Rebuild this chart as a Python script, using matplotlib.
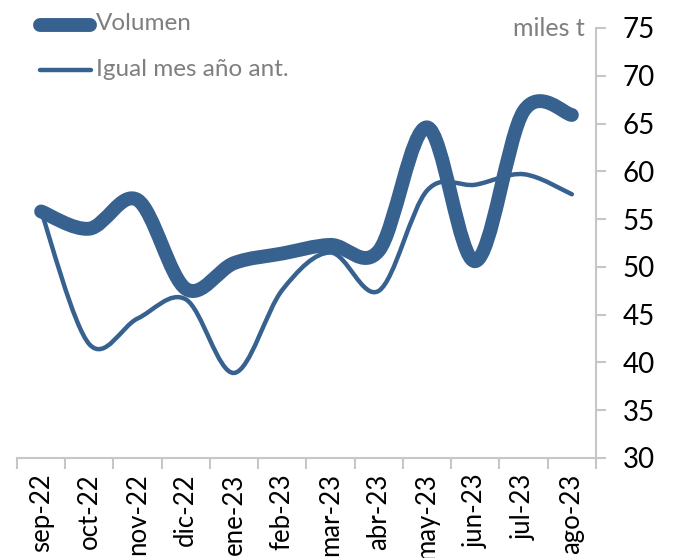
import matplotlib
matplotlib.use("Agg")
import matplotlib.pyplot as plt
from matplotlib.path import Path
from matplotlib.patches import PathPatch
from matplotlib.lines import Line2D

plt.rcParams['font.family'] = ['Lato', 'DejaVu Sans']

months = ["sep-22", "oct-22", "nov-22", "dic-22", "ene-23", "feb-23",
          "mar-23", "abr-23", "may-23", "jun-23", "jul-23", "ago-23"]
volumen = [55.8, 54.0, 57.0, 47.7, 50.4, 51.4, 52.3, 51.7, 64.6, 50.6, 66.3, 65.9]
igual_mes = [55.8, 41.9, 44.6, 46.6, 38.9, 47.6, 51.5, 47.5, 58.0, 58.6, 59.7, 57.6]
labels = ["Volumen", "Igual mes año ant."]

blue = '#37618f'
grey = '#c6c6c6'


def smooth_path(xs, ys):
    # Excel style smoothed line: cubic bezier through each point
    verts = [(xs[0], ys[0])]
    codes = [Path.MOVETO]
    n = len(xs)
    for i in range(n - 1):
        x0, y0 = (xs[i - 1], ys[i - 1]) if i > 0 else (xs[i], ys[i])
        x1, y1 = xs[i], ys[i]
        x2, y2 = xs[i + 1], ys[i + 1]
        x3, y3 = (xs[i + 2], ys[i + 2]) if i + 2 < n else (x2, y2)
        c1 = (x1 + (x2 - x0) / 6, y1 + (y2 - y0) / 6)
        c2 = (x2 - (x3 - x1) / 6, y2 - (y3 - y1) / 6)
        verts += [c1, c2, (x2, y2)]
        codes += [Path.CURVE4] * 3
    return Path(verts, codes)


fig = plt.figure(figsize=(6.86, 5.58), dpi=100)
ax = fig.add_axes([17 / 686, 1 - 458 / 558, 579 / 686, 430 / 558])

xs = list(range(len(months)))
ax.add_patch(PathPatch(smooth_path(xs, igual_mes), fill=False, edgecolor=blue,
                       lw=3.2, capstyle='round', joinstyle='round', zorder=2))
ax.add_patch(PathPatch(smooth_path(xs, volumen), fill=False, edgecolor=blue,
                       lw=10, capstyle='round', joinstyle='round', zorder=3))

ax.set_xlim(-0.5, len(months) - 0.5)
ax.set_ylim(30, 75)
ax.set_yticks(range(30, 80, 5))
ax.yaxis.tick_right()
ax.set_xticks([i - 0.5 for i in range(len(months) + 1)], minor=False)
ax.set_xticklabels([])
ax.set_xticks(xs, minor=True)
ax.set_xticklabels(months, minor=True, rotation=90, fontsize=18.5)

for s in ['top', 'left']:
    ax.spines[s].set_visible(False)
for s in ['bottom', 'right']:
    ax.spines[s].set_color(grey)
    ax.spines[s].set_linewidth(1.5)

ax.tick_params(axis='y', which='major', direction='out', length=7, width=1.5,
               color=grey, labelsize=20, pad=12, labelcolor='black')
ax.tick_params(axis='x', which='major', direction='out', length=8, width=1.5,
               color=grey)
ax.tick_params(axis='x', which='minor', length=0, pad=11, labelcolor='black')

# legend drawn by hand, top left
fig.add_artist(Line2D([40 / 686, 90 / 686], [1 - 25 / 558, 1 - 25 / 558],
                      color=blue, lw=10, solid_capstyle='round'))
fig.add_artist(Line2D([40 / 686, 91 / 686], [1 - 70 / 558, 1 - 70 / 558],
                      color=blue, lw=3.2, solid_capstyle='round'))
fig.text(96 / 686, 1 - 24 / 558, labels[0], fontsize=17.5, color='#7f7f7f',
         va='center', ha='left')
fig.text(96 / 686, 1 - 69 / 558, labels[1], fontsize=17.5, color='#7f7f7f',
         va='center', ha='left')

fig.text(585 / 686, 1 - 28 / 558, "miles t", fontsize=18, color='#7f7f7f',
         va='center', ha='right')

fig.savefig("out.png", dpi=100)
